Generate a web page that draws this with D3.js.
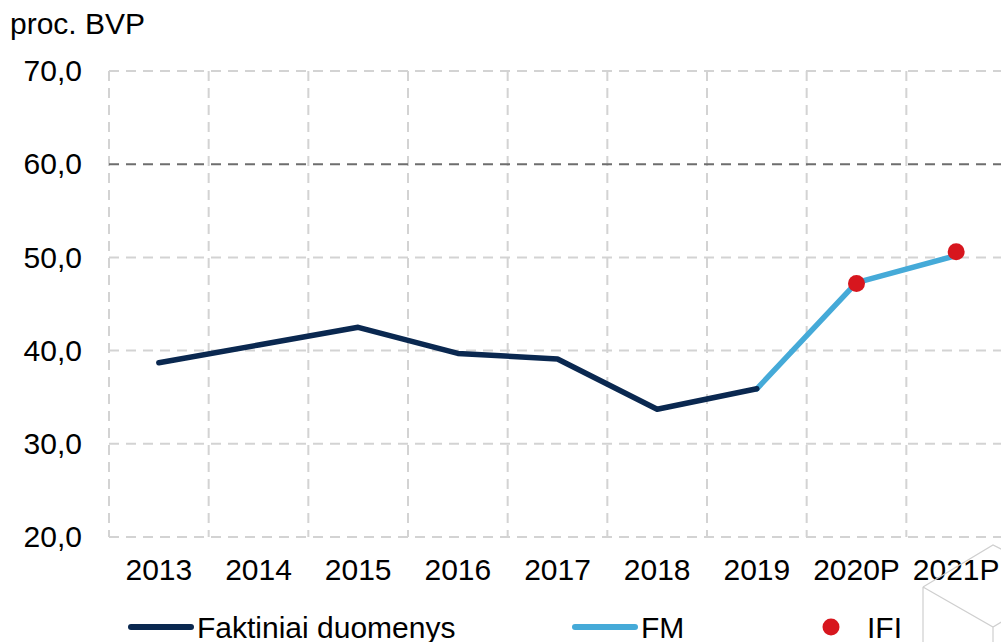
<!DOCTYPE html>
<html>
<head>
<meta charset="utf-8">
<script src="https://cdn.jsdelivr.net/npm/d3@7"></script>
<style>
  body { margin: 0; background: #fff; }
  text { font-family: "Liberation Sans", Arial, sans-serif; fill: #000; }
</style>
</head>
<body>
<svg id="chart" width="1001" height="642"></svg>
<script>
var years = ["2013", "2014", "2015", "2016", "2017", "2018", "2019", "2020P", "2021P"];
var actual = [38.7, 40.6, 42.5, 39.7, 39.1, 33.7, 35.9, null, null];
var fm = [null, null, null, null, null, null, 35.9, 47.3, 50.2];
var ifi = [null, null, null, null, null, null, null, 47.2, 50.6];
var yTicks = [20, 30, 40, 50, 60, 70];
var limit = 60;

var svg = d3.select("#chart"),
    plotLeft = 109, plotRight = 1006, plotTop = 71, plotBottom = 537,
    fontSize = "30px";

var x = d3.scaleBand().domain(years).range([plotLeft, plotRight]);
var y = d3.scaleLinear().domain([20, 70]).range([plotBottom, plotTop]);

var grid = svg.append("g");

// vertical gridlines at band edges
grid.selectAll(".vg")
    .data(years)
    .enter().append("line")
    .attr("x1", function(d) { return x(d); })
    .attr("x2", function(d) { return x(d); })
    .attr("y1", plotTop).attr("y2", plotBottom)
    .attr("stroke", "#d3d3d3").attr("stroke-width", 2)
    .attr("stroke-dasharray", "10,7");

grid.selectAll(".hg")
    .data(yTicks.filter(function(d) { return d !== limit; }))
    .enter().append("line")
    .attr("x1", plotLeft).attr("x2", plotRight)
    .attr("y1", function(d) { return y(d); })
    .attr("y2", function(d) { return y(d); })
    .attr("stroke", "#d3d3d3").attr("stroke-width", 2)
    .attr("stroke-dasharray", "10,7");

grid.append("line")
    .attr("x1", plotLeft).attr("x2", plotRight)
    .attr("y1", y(limit)).attr("y2", y(limit))
    .attr("stroke", "#6e6e6e").attr("stroke-width", 2)
    .attr("stroke-dasharray", "10,7");

// y axis labels
var yAxis = d3.axisLeft(y).tickValues(yTicks).tickSize(0).tickPadding(27)
    .tickFormat(function(d) { return d3.format(".1f")(d).replace(".", ","); });
var yg = svg.append("g").attr("transform", "translate(" + plotLeft + ",0)").call(yAxis);
yg.select(".domain").remove();
yg.selectAll("text").style("font-size", fontSize).attr("fill", "#000")
    .style("font-family", "'Liberation Sans', Arial, sans-serif");

// x axis labels
var xAxis = d3.axisBottom(x).tickSize(0).tickPadding(22);
var xg = svg.append("g").attr("transform", "translate(0," + plotBottom + ")").call(xAxis);
xg.select(".domain").remove();
xg.selectAll("text").style("font-size", fontSize).attr("fill", "#000")
    .style("font-family", "'Liberation Sans', Arial, sans-serif");

svg.append("text").attr("x", 10).attr("y", 34).style("font-size", fontSize).text("proc. BVP");

// decoration in lower right corner
svg.append("path")
    .attr("d", "M923,587 L993,545 L1003,550 M923,587 L993,627 L1003,621 M923,587 L923,642 M993,627 L993,642")
    .attr("fill", "none").attr("stroke", "#cfcfcf").attr("stroke-width", 1.2);

var line = d3.line()
    .defined(function(d) { return d.v !== null; })
    .x(function(d) { return x(d.k) + x.bandwidth() / 2; })
    .y(function(d) { return y(d.v); });

function rows(arr) {
    return years.map(function(k, i) { return { k: k, v: arr[i] }; });
}

svg.append("path")
    .datum(rows(fm))
    .attr("d", line)
    .attr("fill", "none").attr("stroke", "#45aad8").attr("stroke-width", 5.5)
    .attr("stroke-linejoin", "round").attr("stroke-linecap", "round");

svg.append("path")
    .datum(rows(actual))
    .attr("d", line)
    .attr("fill", "none").attr("stroke", "#0a2850").attr("stroke-width", 5.5)
    .attr("stroke-linejoin", "round").attr("stroke-linecap", "round");

svg.selectAll(".ifi")
    .data(rows(ifi).filter(function(d) { return d.v !== null; }))
    .enter().append("circle")
    .attr("cx", function(d) { return x(d.k) + x.bandwidth() / 2; })
    .attr("cy", function(d) { return y(d.v); })
    .attr("r", 8.5)
    .attr("fill", "#d7161e");

// legend
var ly = 627;
var legend = svg.append("g");
legend.append("line").attr("x1", 131).attr("x2", 191).attr("y1", ly).attr("y2", ly)
    .attr("stroke", "#0a2850").attr("stroke-width", 6).attr("stroke-linecap", "round");
legend.append("text").attr("x", 197).attr("y", ly + 11).style("font-size", fontSize).text("Faktiniai duomenys");
legend.append("line").attr("x1", 575).attr("x2", 635).attr("y1", ly).attr("y2", ly)
    .attr("stroke", "#45aad8").attr("stroke-width", 6).attr("stroke-linecap", "round");
legend.append("text").attr("x", 641).attr("y", ly + 11).style("font-size", fontSize).text("FM");
legend.append("circle").attr("cx", 831).attr("cy", ly).attr("r", 8.5).attr("fill", "#d7161e");
legend.append("text").attr("x", 867).attr("y", ly + 11).style("font-size", fontSize).text("IFI");
</script>
</body>
</html>
